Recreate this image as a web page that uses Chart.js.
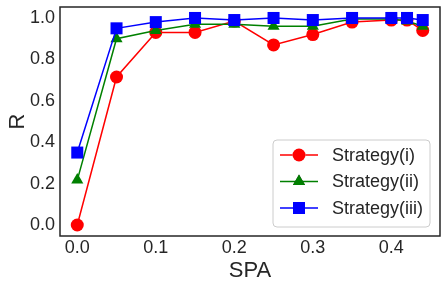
<!DOCTYPE html>
<html>
<head>
<meta charset="utf-8">
<script src="https://cdn.jsdelivr.net/npm/chart.js@4/dist/chart.umd.min.js"></script>
<style>
  html, body { margin: 0; padding: 0; background: #fff; }
  #wrap { width: 446px; height: 288px; }
</style>
</head>
<body>
<div id="wrap"><canvas id="chart" width="446" height="288"></canvas></div>
<script>
const spa = [0, 0.05, 0.1, 0.15, 0.2, 0.25, 0.3, 0.35, 0.4, 0.42, 0.44];
const strategyI   = [0.0, 0.715, 0.93, 0.93, 0.985, 0.87, 0.92, 0.98, 0.99, 0.99, 0.94];
const strategyII  = [0.217, 0.90, 0.94, 0.97, 0.97, 0.96, 0.96, 0.995, 0.995, 0.985, 0.96];
const strategyIII = [0.35, 0.95, 0.98, 1.0, 0.99, 1.0, 0.99, 1.0, 1.0, 1.0, 0.99];
const seriesNames = ['Strategy(i)', 'Strategy(ii)', 'Strategy(iii)'];
const xTicks = [0, 0.1, 0.2, 0.3, 0.4];
const yTicks = [0, 0.2, 0.4, 0.6, 0.8, 1.0];

const textColor = '#262626';
const font = 'Liberation Sans, Arial, sans-serif';

function pts(ys) {
    return spa.map((x, i) => ({ x: x, y: ys[i] }));
}

const styles = [
    { color: '#ff0000', point: 'circle', radius: 6.5 },
    { color: '#008000', point: 'triangle', radius: 7 },
    { color: '#0000ff', point: 'rect', radius: 8.5 }
];

const frameAndLegend = {
    id: 'frameAndLegend',
    afterDraw(chart) {
        const ctx = chart.ctx;
        const a = chart.chartArea;
        ctx.save();
        ctx.strokeStyle = textColor;
        ctx.lineWidth = 1.5;
        ctx.strokeRect(a.left, a.top, a.right - a.left, a.bottom - a.top);

        // legend box, lower right
        const bx = 273, by = 140, bw = 157, bh = 87, r = 4;
        ctx.beginPath();
        ctx.moveTo(bx + r, by);
        ctx.arcTo(bx + bw, by, bx + bw, by + bh, r);
        ctx.arcTo(bx + bw, by + bh, bx, by + bh, r);
        ctx.arcTo(bx, by + bh, bx, by, r);
        ctx.arcTo(bx, by, bx + bw, by, r);
        ctx.closePath();
        ctx.fillStyle = 'rgba(255,255,255,0.85)';
        ctx.fill();
        ctx.strokeStyle = '#cccccc';
        ctx.lineWidth = 1;
        ctx.stroke();

        chart.data.datasets.forEach((ds, i) => {
            const y = 155 + i * 26.5;
            const s = styles[i];
            ctx.strokeStyle = s.color;
            ctx.lineWidth = 1.5;
            ctx.beginPath();
            ctx.moveTo(280, y);
            ctx.lineTo(318, y);
            ctx.stroke();
            Chart.helpers.drawPoint(ctx, {
                pointStyle: s.point, radius: s.radius, borderWidth: 0, rotation: 0
            }, 299, y);
            ctx.fillStyle = s.color;
            ctx.fill();
            ctx.fillStyle = textColor;
            ctx.font = '18px ' + font;
            ctx.textAlign = 'left';
            ctx.textBaseline = 'middle';
            ctx.fillText(ds.label, 332, y + 1);
        });
        ctx.restore();
    }
};

new Chart(document.getElementById('chart'), {
    type: 'line',
    data: {
        datasets: [strategyI, strategyII, strategyIII].map((ys, i) => ({
            label: seriesNames[i],
            data: pts(ys),
            borderColor: styles[i].color,
            backgroundColor: styles[i].color,
            pointBackgroundColor: styles[i].color,
            pointBorderColor: styles[i].color,
            pointBorderWidth: 0,
            pointStyle: styles[i].point,
            pointRadius: styles[i].radius,
            borderWidth: 1.5,
            tension: 0,
            clip: 10,
            order: 3 - i
        }))
    },
    options: {
        responsive: false,
        animation: false,
        layout: { autoPadding: false, padding: { left: 4, top: 7, right: 6, bottom: 0 } },
        plugins: {
            legend: { display: false },
            tooltip: { enabled: false }
        },
        scales: {
            x: {
                type: 'linear',
                min: -0.022,
                max: 0.462,
                grid: { display: false, drawTicks: false },
                border: { display: false },
                afterBuildTicks(scale) { scale.ticks = xTicks.map(v => ({ value: v })); },
                afterFit(scale) {
                    scale.height = 52;
                    scale.paddingLeft = 0;
                    scale.paddingRight = 0;
                },
                ticks: {
                    color: textColor,
                    font: { family: font, size: 18, lineHeight: 1 },
                    padding: 3,
                    maxRotation: 0,
                    callback: v => v.toFixed(1)
                },
                title: {
                    display: true,
                    text: 'SPA',
                    color: textColor,
                    font: { family: font, size: 22, lineHeight: 1 },
                    padding: { top: 1, bottom: 6 }
                }
            },
            y: {
                min: -0.053,
                max: 1.053,
                grid: { display: false, drawTicks: false },
                border: { display: false },
                afterBuildTicks(scale) { scale.ticks = yTicks.map(v => ({ value: v })); },
                afterFit(scale) {
                    scale.width = 56;
                    scale.paddingTop = 0;
                    scale.paddingBottom = 0;
                },
                ticks: {
                    color: textColor,
                    font: { family: font, size: 18, lineHeight: 1 },
                    padding: 5,
                    callback: v => v.toFixed(1)
                },
                title: {
                    display: true,
                    text: 'R',
                    color: textColor,
                    font: { family: font, size: 22, lineHeight: 1 },
                    padding: { top: 3, bottom: 0 }
                }
            }
        }
    },
    plugins: [frameAndLegend]
});
</script>
</body>
</html>
